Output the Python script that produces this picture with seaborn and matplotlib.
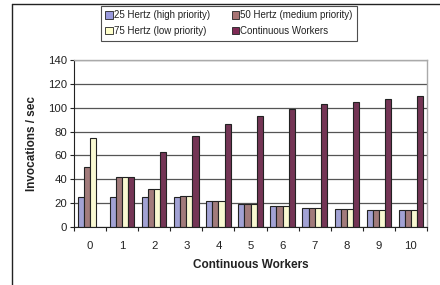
import numpy as np
import pandas as pd
import seaborn as sns
import matplotlib.pyplot as plt
from matplotlib.lines import Line2D
from matplotlib.ticker import FixedLocator

workers = [0, 1, 2, 3, 4, 5, 6, 7, 8, 9, 10]
hz25 = [25, 25, 25, 25, 22, 19, 18, 16, 15, 14, 14]
hz50 = [50, 42, 32, 26, 22, 19, 18, 16, 15, 14, 14]
hz75 = [75, 42, 32, 26, 22, 19.5, 18, 16, 15, 14, 14]
continuous = [np.nan, 42, 63, 76, 86, 93, 99, 103, 105, 107, 110]

series = ["25 Hertz (high priority)", "50 Hertz (medium priority)",
          "75 Hertz (low priority)", "Continuous Workers"]
colors = ["#9999dd", "#a87474", "#ffffcc", "#7f2a55"]

rows = []
for name, vals in zip(series, [hz25, hz50, hz75, continuous]):
    for w, v in zip(workers, vals):
        rows.append({"workers": str(w), "series": name, "value": v})
df = pd.DataFrame(rows)

sns.set_style("white")
plt.rcParams['font.family'] = ['Liberation Sans', 'DejaVu Sans']

fig = plt.figure(figsize=(4.4, 2.85), dpi=100)
ax = fig.add_axes([74 / 440, 1 - 227 / 285, 353 / 440, 167 / 285])

sns.barplot(data=df, x="workers", y="value", hue="series", palette=colors,
            width=0.76, edgecolor="#222222", linewidth=0.8, ax=ax, legend=False)

ax.set_ylim(0, 140)
ax.set_xlim(-0.5, 10.5)
ax.set_yticks(range(0, 141, 20))
ax.yaxis.grid(True, color="#555555", linewidth=0.9)
ax.set_axisbelow(True)
ax.xaxis.set_minor_locator(FixedLocator(np.arange(-0.5, 11, 1)))
ax.tick_params(axis="x", which="major", length=0, labelsize=8.2, pad=10, labelcolor="#222222")
ax.tick_params(axis="x", which="minor", length=3, width=0.8, color="#222222", direction="out", bottom=True)
ax.tick_params(axis="y", length=3, width=0.8, color="#222222", labelsize=8.2, left=True,
               direction="out", pad=2, labelcolor="#222222")
for s in ["left", "bottom"]:
    ax.spines[s].set_color("#222222")
    ax.spines[s].set_linewidth(0.8)
for s in ["top", "right"]:
    ax.spines[s].set_visible(True)
    ax.spines[s].set_color("#aaaaaa")
    ax.spines[s].set_linewidth(1.0)

ax.set_xlabel("Continuous Workers", fontsize=8.5, fontweight="bold", labelpad=6, color="#222222")
ax.set_ylabel("Invocations / sec", fontsize=8.5, fontweight="bold", labelpad=7, color="#222222")

# legend fills row-wise in the reference, so reorder for column-first layout
order = [0, 2, 1, 3]
handles = [plt.Rectangle((0, 0), 1, 1, facecolor=colors[i], edgecolor="#222222", linewidth=0.6) for i in order]
labels = [series[i] for i in order]
leg = fig.legend(handles, labels, loc="upper left", bbox_to_anchor=(101 / 440, 1 - 6 / 285),
                 ncol=2, fontsize=7, frameon=True, fancybox=False, handlelength=0.75,
                 handleheight=0.75, handletextpad=0.15, columnspacing=2.2, borderpad=0.45,
                 labelspacing=0.6, borderaxespad=0)
leg.get_frame().set_edgecolor("#222222")
leg.get_frame().set_linewidth(0.8)
for t in leg.get_texts():
    t.set_color("#222222")

fig.add_artist(Line2D([12 / 440, 12 / 440], [0, 1 - 4 / 285], color="#222222", linewidth=1.0))
fig.add_artist(Line2D([12 / 440, 1], [1 - 4 / 285, 1 - 4 / 285], color="#222222", linewidth=1.0))

fig.savefig("out.png", dpi=100)
